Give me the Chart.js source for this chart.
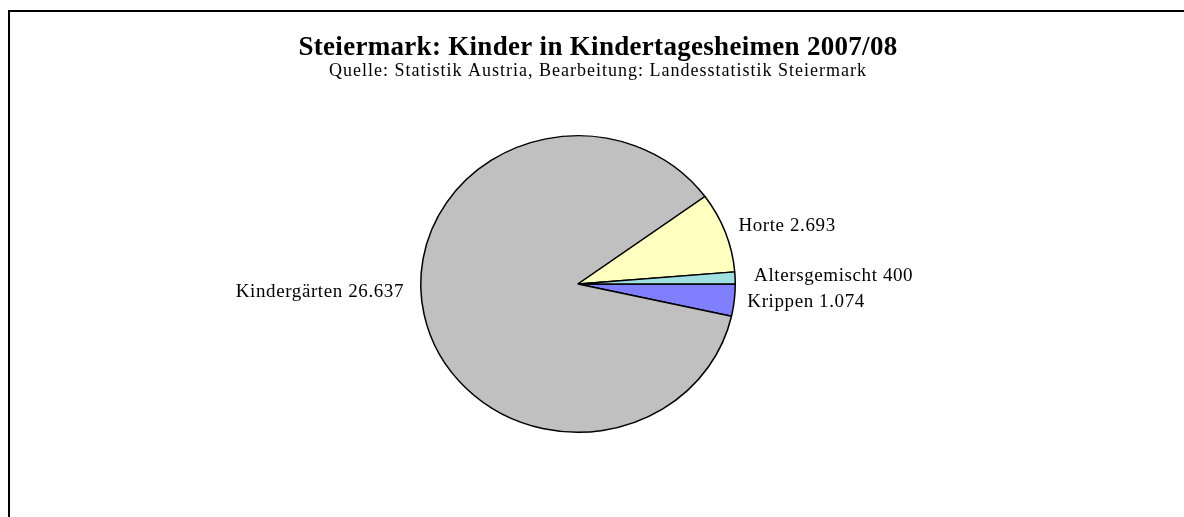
<!DOCTYPE html>
<html>
<head>
<meta charset="utf-8">
<script src="https://cdn.jsdelivr.net/npm/chart.js@4/dist/chart.umd.min.js"></script>
<style>
	html, body { margin: 0; padding: 0; background: #fff; }
	#wrap { width: 1184px; height: 517px; }
</style>
</head>
<body>
<div id="wrap"><canvas id="chart" width="1184" height="517"></canvas></div>
<script>
// Data.
var categories = [ 'Krippen', 'Kindergärten', 'Horte', 'Altersgemischt' ];
var values     = [ 1074, 26637, 2693, 400 ];
var colours    = [ '#8080ff', '#c0c0c0', '#ffffc0', '#a0e0e0' ];

var titleText    = 'Steiermark: Kinder in Kindertagesheimen 2007/08';
var subtitleText = 'Quelle: Statistik Austria, Bearbeitung: Landesstatistik Steiermark';

var SERIF = "'Liberation Serif', 'DejaVu Serif', serif";
var SQUASH = 149 / 158; // the reference pie is a slightly flattened ellipse

function fmt( v ) {
	return v.toLocaleString( 'de-DE' );
}

// Frame, titles and the flattened pie.
var decor = {
	id: 'decor',
	beforeDraw: function ( chart ) {
		var ctx = chart.ctx;
		ctx.save();
		ctx.strokeStyle = '#000';
		ctx.lineWidth = 2;
		ctx.beginPath();
		ctx.moveTo( 9, chart.height );
		ctx.lineTo( 9, 11 );
		ctx.lineTo( chart.width, 11 );
		ctx.stroke();

		ctx.fillStyle = '#000';
		ctx.textAlign = 'center';
		ctx.textBaseline = 'alphabetic';
		ctx.font = 'bold 27px ' + SERIF;
		ctx.letterSpacing = '0.3px';
		ctx.fillText( titleText, 598, 55 );
		ctx.font = '18px ' + SERIF;
		ctx.letterSpacing = '1px';
		ctx.fillText( subtitleText, 598, 76 );
		ctx.restore();
	},
	beforeDatasetsDraw: function ( chart ) {
		var arc = chart.getDatasetMeta( 0 ).data[ 0 ];
		var ctx = chart.ctx;
		ctx.save();
		ctx.translate( arc.x, arc.y );
		ctx.scale( 1, SQUASH );
		ctx.translate( -arc.x, -arc.y );
	},
	afterDatasetsDraw: function ( chart ) {
		chart.ctx.restore();
	},
	afterDraw: function ( chart, args, opts ) {
		var ctx = chart.ctx;
		var arcs = chart.getDatasetMeta( 0 ).data;
		ctx.save();
		ctx.fillStyle = '#000';
		ctx.font = '19px ' + SERIF;
		ctx.letterSpacing = '0.6px';
		ctx.textBaseline = 'middle';
		arcs.forEach( function ( a, i ) {
			var p = a.getProps( [ 'x', 'y', 'startAngle', 'endAngle', 'outerRadius' ], true );
			var mid = ( p.startAngle + p.endAngle ) / 2;
			var cx = Math.cos( mid ), cy = Math.sin( mid );
			var ex = p.x + cx * p.outerRadius;
			var ey = p.y + cy * p.outerRadius * SQUASH;
			var nudge = opts.nudge[ i ] || [ 0, 0 ];
			ctx.textAlign = cx >= 0 ? 'left' : 'right';
			ctx.fillText( categories[ i ] + ' ' + fmt( values[ i ] ),
				ex + ( cx >= 0 ? 13 : -20 ) + nudge[ 0 ], ey + nudge[ 1 ] );
		} );
		ctx.restore();
	},
};

new Chart( document.getElementById( 'chart' ), {
	type: 'pie',
	data: {
		labels: categories,
		datasets: [ {
			data: values,
			backgroundColor: colours,
			borderColor: '#000',
			borderWidth: 1.5,
			borderAlign: 'center',
		} ],
	},
	options: {
		responsive: false,
		animation: false,
		rotation: 90,
		layout: {
			padding: { left: 420, right: 448, top: 126, bottom: 75 },
		},
		plugins: {
			legend: { display: false },
			tooltip: { enabled: false },
			title: { display: false },
			decor: {
				nudge: [ [ 0, 2 ], [ 0, -22 ], [ 0, -6 ], [ 6, -2 ] ],
			},
		},
	},
	plugins: [ decor ],
} );
</script>
</body>
</html>
